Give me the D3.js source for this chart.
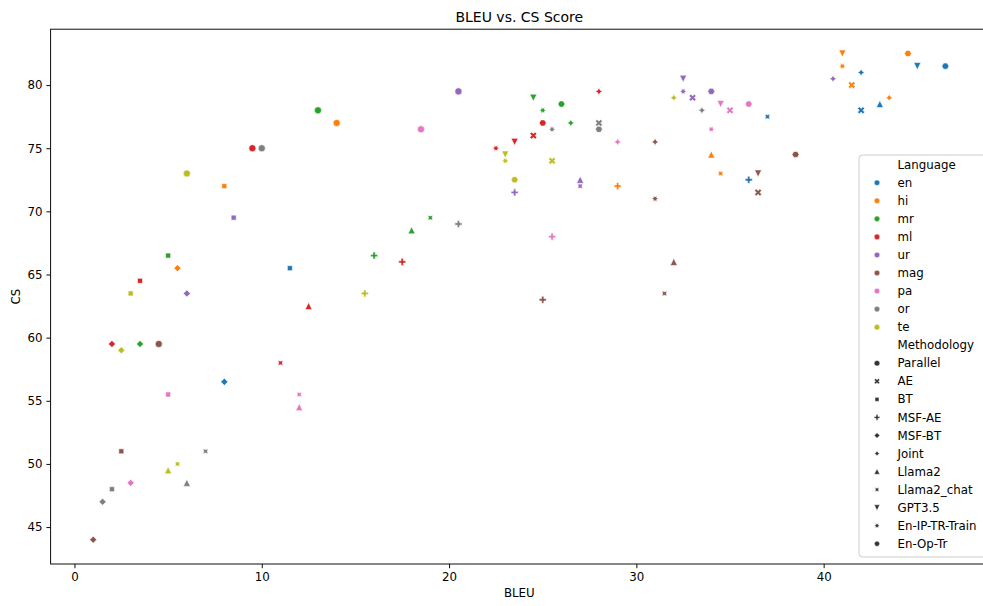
<!DOCTYPE html>
<html>
<head>
<meta charset="utf-8">
<script src="https://cdn.jsdelivr.net/npm/d3@7"></script>
<style>
body { margin: 0; background: #fff; }
text { font-family: "DejaVu Sans", sans-serif; fill: #000; }
</style>
</head>
<body>
<svg id="chart" width="983" height="606"></svg>
<script>
var languages = ["en", "hi", "mr", "ml", "ur", "mag", "pa", "or", "te"];
var methods = ["Parallel", "AE", "BT", "MSF-AE", "MSF-BT", "Joint", "Llama2",
               "Llama2_chat", "GPT3.5", "En-IP-TR-Train", "En-Op-Tr"];

// [methodology, BLEU, CS] for each language
var en = [["BT", 11.5, 65.5], ["MSF-BT", 8, 56.5], ["MSF-AE", 36, 72.5], ["Llama2_chat", 37, 77.5],
          ["AE", 42, 78], ["Llama2", 43, 78.5], ["Joint", 42, 81], ["GPT3.5", 45, 81.5], ["En-Op-Tr", 46.5, 81.5]];
var hi = [["Parallel", 14, 77], ["BT", 8, 72], ["MSF-BT", 5.5, 65.5], ["MSF-AE", 29, 72], ["Llama2", 34, 74.5],
          ["Llama2_chat", 34.5, 73], ["AE", 41.5, 80], ["En-IP-TR-Train", 41, 81.5], ["Joint", 43.5, 79],
          ["GPT3.5", 41, 82.5], ["En-Op-Tr", 44.5, 82.5]];
var mr = [["Parallel", 13, 78], ["BT", 5, 66.5], ["MSF-BT", 3.5, 59.5], ["MSF-AE", 16, 66.5], ["Llama2", 18, 68.5],
          ["Llama2_chat", 19, 69.5], ["GPT3.5", 24.5, 79], ["En-IP-TR-Train", 25, 78], ["Joint", 26.5, 77],
          ["En-Op-Tr", 26, 78.5]];
var ml = [["Parallel", 9.5, 75], ["BT", 3.5, 64.5], ["MSF-BT", 2, 59.5], ["Llama2_chat", 11, 58], ["Llama2", 12.5, 62.5],
          ["MSF-AE", 17.5, 66], ["En-IP-TR-Train", 22.5, 75], ["GPT3.5", 23.5, 75.5], ["AE", 24.5, 76],
          ["En-Op-Tr", 25, 77], ["Joint", 28, 79.5]];
var ur = [["Parallel", 20.5, 79.5], ["BT", 8.5, 69.5], ["MSF-BT", 6, 63.5], ["MSF-AE", 23.5, 71.5], ["Llama2", 27, 72.5],
          ["Llama2_chat", 27, 72], ["GPT3.5", 32.5, 80.5], ["En-IP-TR-Train", 32.5, 79.5], ["AE", 33, 79],
          ["En-Op-Tr", 34, 79.5], ["Joint", 40.5, 80.5]];
var mag = [["Parallel", 4.5, 59.5], ["BT", 2.5, 51], ["MSF-BT", 1, 44], ["MSF-AE", 25, 63], ["Llama2", 32, 66],
           ["Llama2_chat", 31.5, 63.5], ["Joint", 31, 75.5], ["En-IP-TR-Train", 31, 71], ["GPT3.5", 36.5, 73],
           ["AE", 36.5, 71.5], ["En-Op-Tr", 38.5, 74.5]];
var pa = [["Parallel", 18.5, 76.5], ["BT", 5, 55.5], ["MSF-BT", 3, 48.5], ["Llama2_chat", 12, 55.5], ["Llama2", 12, 54.5],
          ["MSF-AE", 25.5, 68], ["Joint", 29, 75.5], ["En-IP-TR-Train", 34, 76.5], ["GPT3.5", 34.5, 78.5],
          ["AE", 35, 78], ["En-Op-Tr", 36, 78.5]];
var or = [["Parallel", 10, 75], ["BT", 2, 48], ["MSF-BT", 1.5, 47], ["Llama2", 6, 48.5], ["Llama2_chat", 7, 51],
          ["MSF-AE", 20.5, 69], ["En-IP-TR-Train", 25.5, 76.5], ["AE", 28, 77], ["En-Op-Tr", 28, 76.5],
          ["Joint", 33.5, 78]];
var te = [["Parallel", 6, 73], ["BT", 3, 63.5], ["MSF-BT", 2.5, 59], ["Llama2", 5, 49.5], ["Llama2_chat", 5.5, 50],
          ["MSF-AE", 15.5, 63.5], ["GPT3.5", 23, 74.5], ["En-IP-TR-Train", 23, 74], ["AE", 25.5, 74],
          ["En-Op-Tr", 23.5, 72.5], ["Joint", 32, 79]];

var xTicks = [0, 10, 20, 30, 40];
var yTicks = [45, 50, 55, 60, 65, 70, 75, 80];

var byLang = { en: en, hi: hi, mr: mr, ml: ml, ur: ur, mag: mag, pa: pa, or: or, te: te };
var palette = ["#1f77b4", "#ff7f0e", "#2ca02c", "#d62728", "#9467bd", "#8c564b", "#e377c2", "#7f7f7f", "#bcbd22"];

var points = [];
languages.forEach(function(l) {
  byLang[l].forEach(function(r) {
    points.push({ lang: l, method: r[0], bleu: r[1], cs: r[2] });
  });
});

var margin = { top: 29.2, right: -5, bottom: 42, left: 50.6 },
    W = 983, H = 606,
    width = W - margin.left - margin.right,
    height = H - margin.top - margin.bottom;

function padded(ext) {
  var d = (ext[1] - ext[0]) * 0.05;
  return [ext[0] - d, ext[1] + d];
}

var x = d3.scaleLinear()
  .domain(padded(d3.extent(points, function(d) { return d.bleu; })))
  .range([0, width]);
var y = d3.scaleLinear()
  .domain(padded(d3.extent(points, function(d) { return d.cs; })))
  .range([height, 0]);
var color = d3.scaleOrdinal().domain(languages).range(palette);

// matplotlib-like marker shapes
function poly(pts) {
  return "M" + pts.map(function(p) { return p[0].toFixed(3) + "," + (-p[1]).toFixed(3); }).join("L") + "Z";
}
function regular(n, star, rot, s) {
  var pts = [], k = star ? 2 * n : n;
  for (var i = 0; i < k; i++) {
    var a = (star ? Math.PI / n * i : 2 * Math.PI / n * i) + Math.PI / 2 + rot * Math.PI / 180;
    var r = (star && i % 2) ? 0.25 : 0.5;
    pts.push([r * s * Math.cos(a), r * s * Math.sin(a)]);
  }
  return poly(pts);
}
function scaled(raw, div, s) {
  return poly(raw.map(function(p) { return [p[0] / div * s, p[1] / div * s]; }));
}
function markerPath(m, s) {
  var r = s / 2;
  switch (m) {
    case "Parallel":
      return "M" + r + ",0A" + r + "," + r + " 0 1,1 " + (-r) + ",0A" + r + "," + r + " 0 1,1 " + r + ",0Z";
    case "AE":
      return scaled([[-1,-2],[0,-1],[1,-2],[2,-1],[1,0],[2,1],[1,2],[0,1],[-1,2],[-2,1],[-1,0],[-2,-1]], 4, s);
    case "BT": return regular(4, false, 45, s);
    case "MSF-AE":
      return scaled([[-1,-3],[1,-3],[1,-1],[3,-1],[3,1],[1,1],[1,3],[-1,3],[-1,1],[-3,1],[-3,-1],[-1,-1]], 6, s);
    case "MSF-BT": return regular(4, false, 0, s);
    case "Joint": return regular(4, true, 0, s);
    case "Llama2": return poly([[0, r], [-r, -r], [r, -r]]);
    case "Llama2_chat": return regular(4, true, 45, s);
    case "GPT3.5": return poly([[0, -r], [r, r], [-r, r]]);
    case "En-IP-TR-Train": return regular(6, true, 30, s);
    case "En-Op-Tr": return regular(6, false, 30, s);
  }
}

var svg = d3.select("#chart");
var g = svg.append("g").attr("transform", "translate(" + margin.left + "," + margin.top + ")");

var xAxis = g.append("g")
  .attr("transform", "translate(0," + height + ")")
  .call(d3.axisBottom(x).tickValues(xTicks).tickSize(4.2).tickSizeOuter(0).tickPadding(4));
var yAxis = g.append("g")
  .call(d3.axisLeft(y).tickValues(yTicks).tickSize(4.2).tickSizeOuter(0).tickPadding(4));
[xAxis, yAxis].forEach(function(a) {
  a.select(".domain").remove();
  a.selectAll("line").attr("stroke", "#000").attr("stroke-width", 0.95);
  a.selectAll("text").style("font-size", "11.8px").style("font-family", "DejaVu Sans, sans-serif").attr("fill", "#000");
});

g.append("rect")
  .attr("width", width).attr("height", height)
  .attr("fill", "none").attr("stroke", "#000").attr("stroke-width", 0.95);

g.selectAll(".pt")
  .data(points)
  .enter().append("path")
  .attr("class", "pt")
  .attr("transform", function(d) { return "translate(" + x(d.bleu) + "," + y(d.cs) + ")"; })
  .attr("d", function(d) { return markerPath(d.method, 7.1); })
  .attr("fill", function(d) { return color(d.lang); })
  .attr("stroke", "#fff")
  .attr("stroke-width", 0.6);

// title and axis labels
svg.append("text")
  .attr("x", margin.left + width / 2).attr("y", 22)
  .attr("text-anchor", "middle").style("font-size", "14px")
  .text("BLEU vs. CS Score");
svg.append("text")
  .attr("x", margin.left + width / 2).attr("y", 597)
  .attr("text-anchor", "middle").style("font-size", "11.8px")
  .text("BLEU");
svg.append("text")
  .attr("transform", "translate(20," + (margin.top + height / 2) + ") rotate(-90)")
  .attr("text-anchor", "middle").style("font-size", "11.8px")
  .text("CS");

// legend
var rows = [{ label: "Language" }];
languages.forEach(function(l) { rows.push({ label: l, lang: l }); });
rows.push({ label: "Methodology" });
methods.forEach(function(m) { rows.push({ label: m, method: m }); });

var lg = svg.append("g").attr("transform", "translate(859,155)");
lg.append("rect")
  .attr("width", 140).attr("height", 402)
  .attr("rx", 3.5).attr("ry", 3.5)
  .attr("fill", "#fff").attr("fill-opacity", 0.8)
  .attr("stroke", "#ccc").attr("stroke-width", 1);

var row = lg.selectAll(".row")
  .data(rows)
  .enter().append("g")
  .attr("class", "row")
  .attr("transform", function(d, i) { return "translate(0," + (9.7 + i * 18.05) + ")"; });

row.filter(function(d) { return d.lang || d.method; })
  .append("path")
  .attr("transform", "translate(18,0)")
  .attr("d", function(d) { return markerPath(d.lang ? "Parallel" : d.method, 5.6); })
  .attr("fill", function(d) { return d.lang ? color(d.lang) : "#333"; })
  .attr("stroke", "#fff")
  .attr("stroke-width", 0.5);

row.append("text")
  .attr("x", 38.5).attr("dy", "0.35em")
  .style("font-size", "11.8px")
  .text(function(d) { return d.label; });
</script>
</body>
</html>
